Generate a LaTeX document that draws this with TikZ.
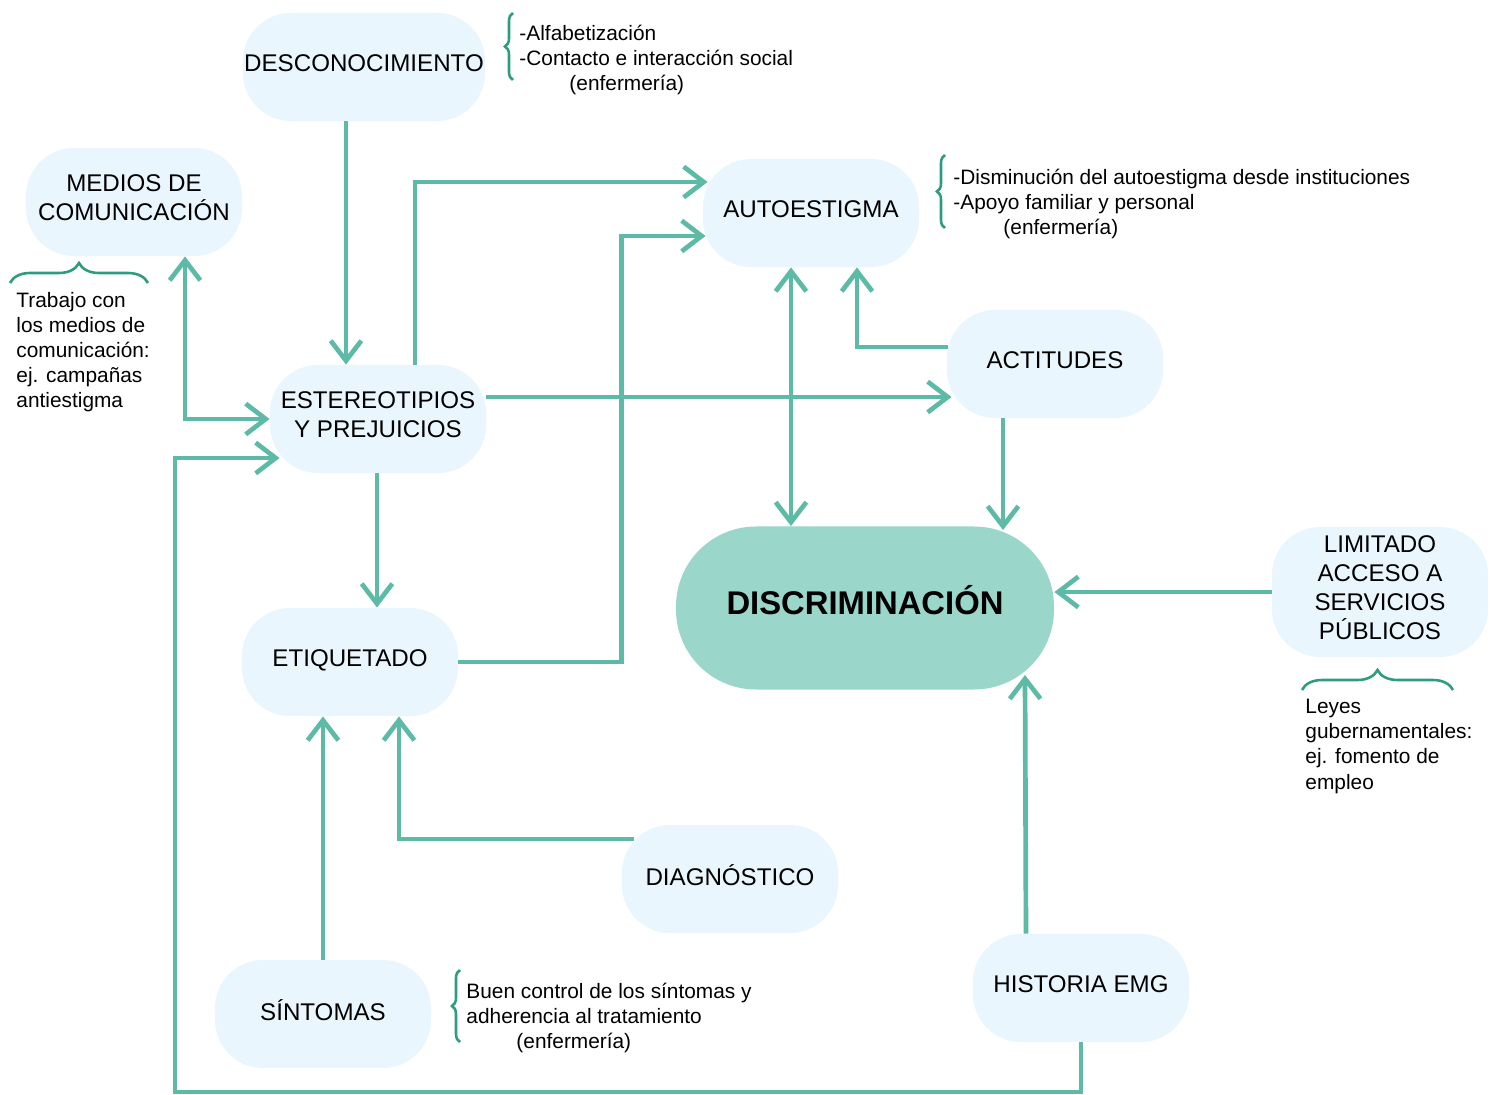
\documentclass[tikz,border=0pt]{standalone}
\usepackage{fontspec}
\setmainfont{Liberation Sans}
\usepackage{tikz}
\usetikzlibrary{arrows.meta, positioning, calc, decorations.pathreplacing}
\definecolor{boxblue}{HTML}{EAF6FE}
\definecolor{discgreen}{HTML}{9BD6CB}
\definecolor{linkgreen}{HTML}{5CBAA6}
\definecolor{bracegreen}{HTML}{2E9C7E}

\begin{document}
\begin{tikzpicture}[x=0.015cm, y=-0.015cm,
	box/.style={rectangle, rounded corners=0.72cm, fill=boxblue, minimum width=3.24cm,
		minimum height=1.62cm, align=center, inner sep=0pt, text depth=3.5pt,
		font=\fontsize{10.3}{12.4}\selectfont},
	link/.style={draw=linkgreen, line width=2pt, -{Straight Barb[length=0.3cm, width=0.46cm]}},
	both/.style={link, {Straight Barb[length=0.3cm, width=0.46cm]}-{Straight Barb[length=0.3cm, width=0.46cm]}},
	note/.style={align=left, anchor=north west, inner sep=0pt, font=\fontsize{8.9}{10.7}\selectfont},
	curly/.style={draw=bracegreen, line width=1.1pt, decorate, decoration={brace, amplitude=#1}}]
	% page
	\fill[white] (0,0) rectangle (1496,1095);

	% Boxes
	\node[box, minimum width=3.63cm] (desc) at (364,67) {DESCONOCIMIENTO};
	\node[box] (medios) at (134,202) {MEDIOS DE\\COMUNICACIÓN};
	\node[box] (est) at (378,419) {ESTEREOTIPIOS\\Y PREJUICIOS};
	\node[box] (auto) at (811,213) {AUTOESTIGMA};
	\node[box] (act) at (1055,364) {ACTITUDES};
	\node[box, fill=discgreen, minimum width=5.67cm, minimum height=2.445cm, rounded corners=1.2cm,
		text depth=6.5pt, font=\fontsize{14}{16}\selectfont\bfseries] (disc) at (865,608) {DISCRIMINACIÓN};
	\node[box, minimum height=1.95cm] (lim) at (1380,592) {LIMITADO\\ACCESO A\\SERVICIOS\\PÚBLICOS};
	\node[box] (etiq) at (350,662) {ETIQUETADO};
	\node[box] (diag) at (730,879) {DIAGNÓSTICO};
	\node[box] (sint) at (323,1014) {SÍNTOMAS};
	\node[box] (hist) at (1081,988) {HISTORIA EMG};

	% Notes
	\node[note] (desc-note) at (519,25) {-Alfabetización\\-Contacto e interacción social\\\hspace*{0.75cm}(enfermería)};
	\node[note] (auto-note) at (953,169) {-Disminución del autoestigma desde instituciones\\-Apoyo familiar y personal\\\hspace*{0.75cm}(enfermería)};
	\node[note] (sint-note) at (466,983) {Buen control de los síntomas y\\adherencia al tratamiento\\\hspace*{0.75cm}(enfermería)};
	\node[note] (medios-note) at (16,292) {Trabajo con\\los medios de\\comunicación:\\ej. campañas\\antiestigma};
	\node[note] (lim-note) at (1305,699) {Leyes\\gubernamentales:\\ej. fomento de\\empleo};

	% Braces
	\draw[curly=0.12cm] (513,80) -- (513,13);
	\draw[curly=0.12cm] (945,228) -- (945,155);
	\draw[curly=0.12cm] (460,1042) -- (460,970);
	\draw[curly=0.3cm] (10,283) -- (148,283);
	\draw[curly=0.3cm] (1302,690) -- (1453,690);

	% Connectors
	\draw[link] ([shift={(-18,0)}]desc.south) -- ($(desc.south |- est.north)+(-18,0)$);
	\draw[both] ([shift={(51,0)}]medios.south) |- (est.west);
	\coordinate (loop) at (175,1092);
	\draw[link] (hist.south) |- (loop) |- ([shift={(10,39)}]est.west);
	\draw[link] ([shift={(37,0)}]est.north) |- ([shift={(5,-31)}]auto.west);
	\draw[link] (etiq.east) -| ([shift={(-81,23)}]auto.west) -- ([shift={(3,23)}]auto.west);
	\draw[link] ([shift={(0,-22)}]est.east) -- ([shift={(5,33)}]act.west);
	\draw[both] ([shift={(-20,0)}]auto.south) -- ($(auto.south |- disc.north)+(-20,0)$);
	\draw[link] ([shift={(1,-17)}]act.west) -| ([shift={(46,0)}]auto.south);
	\draw[link] ([shift={(-52,0)}]act.south) -- ($(act.south |- disc.north)+(-52,4)$);
	\draw[link] (lim.west) -- (lim.west -| disc.east);
	\draw[link] ([shift={(-55,0)}]hist.north) -- ([shift={(160,-15)}]disc.south);
	\draw[link] ([shift={(-1,0)}]est.south) -- ($(est.south |- etiq.north)+(-1,0)$);
	\draw[link] (sint.north) -- (sint.north |- etiq.south);
	\draw[link] ([shift={(12,-40)}]diag.west) -| ([shift={(49,0)}]etiq.south);
\end{tikzpicture}
\end{document}
